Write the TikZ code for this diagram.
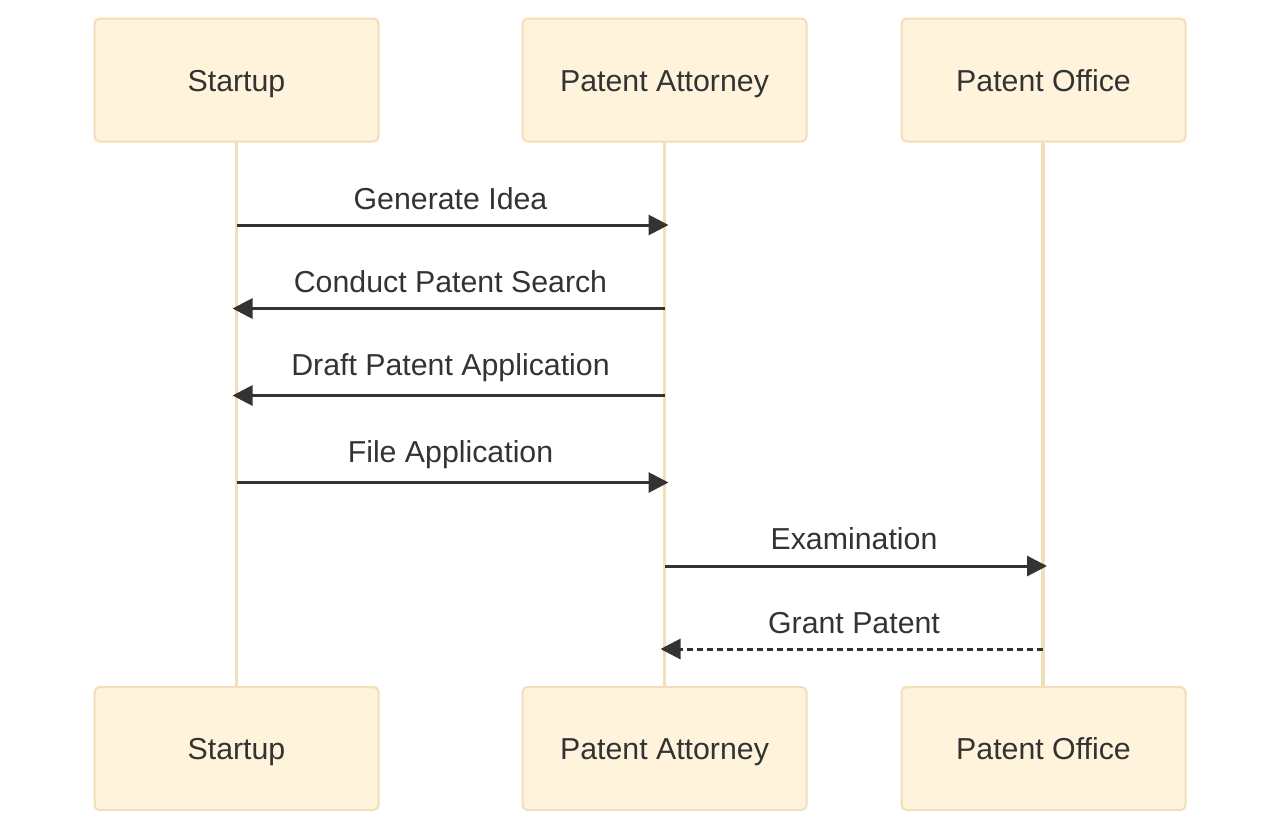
\documentclass[tikz,border=0pt]{standalone}
\usepackage{fontspec}
\setmainfont{Liberation Sans}
\usetikzlibrary{arrows.meta}

\definecolor{boxfill}{HTML}{FFF3DC}
\definecolor{boxline}{HTML}{F0DFB8}
\definecolor{msgcol}{HTML}{333333}

\begin{document}
\begin{tikzpicture}[x=1pt,y=-1pt,
  actor node/.style={rectangle,rounded corners=5pt,fill=boxfill,draw=boxline,
  line width=2pt,minimum width=284pt,minimum height=123pt,text=msgcol,
  text height=22pt,text depth=0pt,font=\fontsize{30.3}{36}\selectfont},
  life line/.style={draw=boxline,line width=3.5pt},
  msg/.style={draw=msgcol,line width=3pt,-{Triangle[length=20pt,width=20pt]},
  shorten >=-4pt},
  msg label/.style={text=msgcol,font=\fontsize{30.3}{36}\selectfont,anchor=base}]

  \useasboundingbox (0,0) rectangle (1280,831);

  %lifelines go behind the boxes
  \path[life line] (236.5,142) -- (236.5,687);
  \path[life line] (664.5,142) -- (664.5,687);
  \path[life line] (1043,142) -- (1043,687);

  %top row of actors
  \node[actor node] (S) at (236.5,80) {Startup};
  \node[actor node] (PA) at (664.5,80) {Patent Attorney};
  \node[actor node] (PO) at (1043.5,80) {Patent Office};

  %bottom row of actors
  \node[actor node] (S2) at (236.5,748.5) {Startup};
  \node[actor node] (PA2) at (664.5,748.5) {Patent Attorney};
  \node[actor node] (PO2) at (1043.5,748.5) {Patent Office};

  %message end points on the lifelines
  \coordinate (s1) at (236.5,225);   \coordinate (a1) at (664.5,225);
  \coordinate (s2) at (236.5,308.5); \coordinate (a2) at (664.5,308.5);
  \coordinate (s3) at (236.5,395.5); \coordinate (a3) at (664.5,395.5);
  \coordinate (s4) at (236.5,482.5); \coordinate (a4) at (664.5,482.5);
  \coordinate (a5) at (664.5,566);   \coordinate (o5) at (1043,566);
  \coordinate (a6) at (664.5,649);   \coordinate (o6) at (1043,649);

  %messages between startup and attorney
  \draw[msg] (s1) -- (a1);
  \node[msg label] (GI) at (450.5,209) {Generate Idea};
  \draw[msg] (a2) -- (s2);
  \node[msg label] (CS) at (450.5,292) {Conduct Patent Search};
  \draw[msg] (a3) -- (s3);
  \node[msg label] (DA) at (450.5,375) {Draft Patent Application};
  \draw[msg] (s4) -- (a4);
  \node[msg label] (FA) at (450.5,462) {File Application};

  %attorney and patent office
  \draw[msg] (a5) -- (o5);
  \node[msg label] (EX) at (854,549) {Examination};
  \draw[msg,dash pattern=on 6pt off 4pt] (o6) -- (a6);
  \node[msg label] (GP) at (854,633) {Grant Patent};

\end{tikzpicture}
\end{document}
